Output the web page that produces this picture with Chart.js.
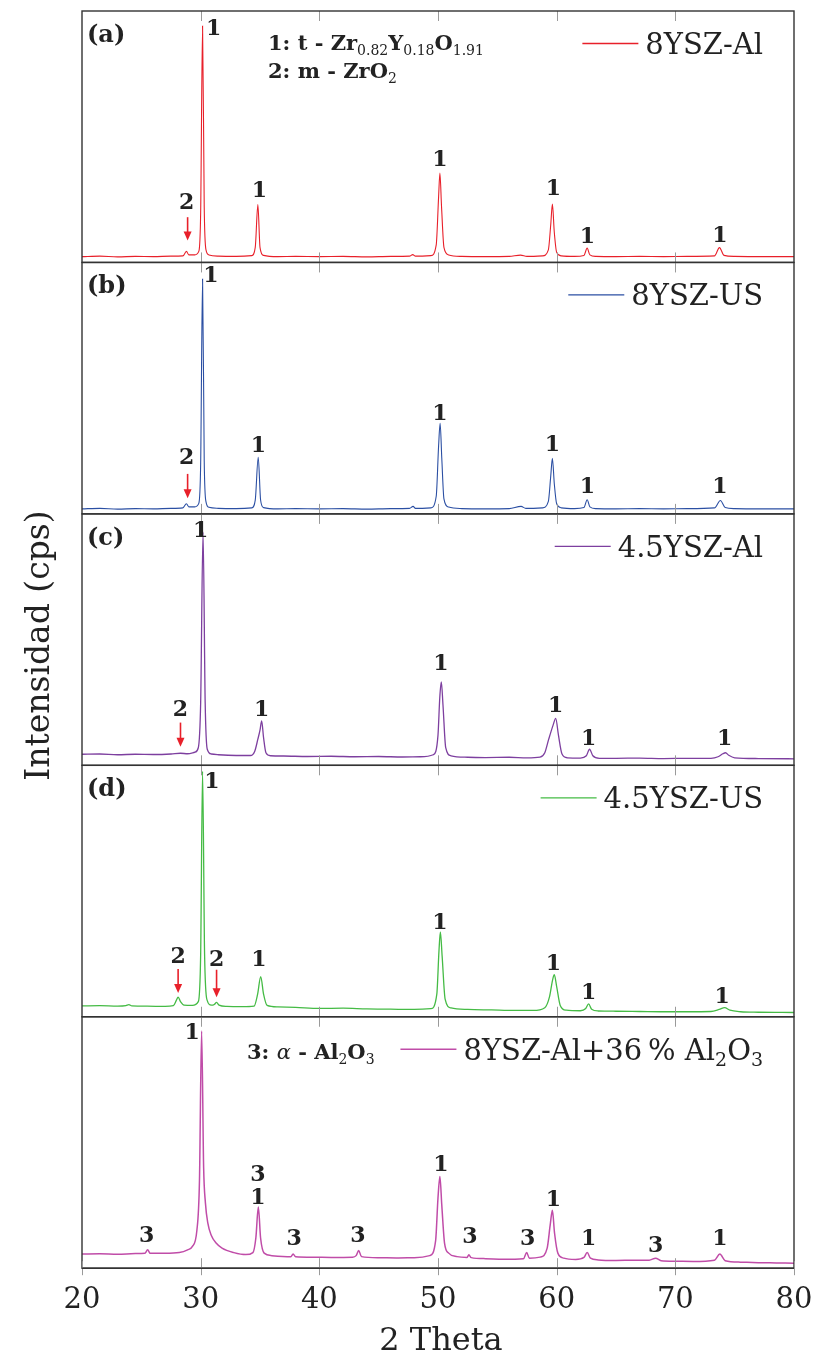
<!DOCTYPE html>
<html>
<head>
<meta charset="utf-8">
<script src="https://cdn.jsdelivr.net/npm/chart.js@4/dist/chart.umd.min.js"></script>
<style>
  body { margin: 0; background: #fff; }
  canvas { display: block; }
</style>
</head>
<body>
<canvas id="xrd" width="816" height="1368"></canvas>
<script>
// x axis
const thetaTicks = [20, 30, 40, 50, 60, 70, 80];

// one scan per panel: [2 theta, intensity on a 0-100 panel scale]
const scanA = [[20,2.3],[21.5,2.5],[23,2.2],[24.5,2.4],[26,2.3],[27.5,2.5],[28.5,2.6],[28.8,4.4],[29.0,3.0],[29.5,3.0],[29.85,4.5],[30.0,20],[30.16,94],[30.3,22],[30.45,5],[30.7,3],[31.5,2.5],[33,2.4],[34.3,2.7],[34.6,6],[34.82,23],[35.0,6],[35.3,2.8],[36.5,2.3],[38,2.4],[40,2.3],[42,2.4],[44,2.2],[46,2.4],[47.6,2.5],[47.87,3.1],[48.1,2.5],[49.4,2.7],[49.85,7],[50.05,26],[50.16,35.6],[50.3,22],[50.5,6],[50.9,3],[52,2.4],[54,2.3],[56,2.4],[56.96,2.9],[57.5,2.4],[58.8,2.6],[59.3,5],[59.5,15],[59.64,23.2],[59.8,12],[60.0,4],[60.4,2.6],[61.5,2.4],[62.3,2.8],[62.57,5.7],[62.8,3],[63.3,2.4],[65,2.3],[67,2.4],[69,2.3],[71,2.4],[73.3,2.6],[73.72,5.9],[74.1,2.8],[75,2.4],[77,2.3],[80,2.3]];
const scanB = [[20,2.0],[21.5,2.2],[23,1.9],[24.5,2.1],[26,2.0],[27.5,2.2],[28.5,2.4],[28.8,4.0],[29.0,2.8],[29.5,2.8],[29.85,4.3],[30.0,20],[30.16,93.4],[30.3,21],[30.45,4.8],[30.7,2.6],[31.5,2.2],[33,2.1],[34.3,2.4],[34.6,5.5],[34.85,22.5],[35.05,5.5],[35.3,2.5],[36.5,2.0],[38,2.1],[40,2.0],[42,2.1],[44,1.9],[46,2.1],[47.6,2.2],[47.9,3.0],[48.1,2.2],[49.4,2.4],[49.85,7],[50.05,27],[50.18,36],[50.32,22],[50.5,6],[50.9,2.7],[52,2.1],[54,2.0],[56,2.1],[57.0,3.0],[57.4,2.2],[58.8,2.4],[59.3,5],[59.5,15],[59.64,22.1],[59.8,12],[60.0,4],[60.4,2.4],[61.5,2.1],[62.3,2.5],[62.57,5.6],[62.8,2.8],[63.3,2.1],[65,2.0],[67,2.1],[69,2.0],[71,2.1],[73.3,2.4],[73.8,5.3],[74.2,2.5],[75,2.1],[77,2.0],[80,2.0]];
const scanC = [[20,4.4],[21.5,4.5],[23,4.2],[24.5,4.4],[26,4.3],[27.5,4.5],[28.3,4.8],[28.9,4.6],[29.5,5.2],[29.8,7],[30.0,25],[30.2,92.7],[30.38,25],[30.55,6.5],[30.9,4.5],[31.5,4.2],[33,3.9],[34.2,3.9],[34.55,5.5],[34.82,10.4],[35.0,14],[35.14,17.7],[35.3,11],[35.5,5],[35.9,3.8],[37,3.7],[39,3.5],[41,3.6],[43,3.4],[45,3.5],[47,3.3],[48.5,3.4],[49.6,4.2],[50.0,12],[50.15,27],[50.28,33.2],[50.42,24],[50.65,7],[51.1,3.8],[52.5,3.2],[54,3.1],[56,3.2],[57.5,3.0],[58.6,3.3],[59.0,5],[59.33,10.4],[59.7,16],[59.92,18.7],[60.15,12],[60.45,4.5],[60.9,3.0],[62.0,2.9],[62.5,3.8],[62.77,6.4],[63.05,3.8],[63.6,2.8],[65,2.8],[67,2.9],[69,2.7],[71,2.8],[73,2.8],[73.6,3.4],[74.0,4.6],[74.23,5.0],[74.5,4.0],[75,3.0],[77,2.7],[80,2.6]];
const scanD = [[20,4.3],[21.5,4.4],[23,4.2],[23.7,4.4],[23.95,4.8],[24.2,4.3],[25.5,4.2],[27,4.1],[27.7,4.4],[27.95,6.5],[28.1,7.8],[28.3,6.0],[28.6,4.6],[29.3,4.5],[29.8,6],[30.0,25],[30.16,97.6],[30.33,25],[30.55,6.5],[30.9,4.6],[31.15,4.9],[31.34,5.7],[31.55,4.6],[32.2,4.1],[33.5,4.0],[34.5,4.2],[34.8,9],[35.06,16],[35.3,9],[35.6,4.5],[36.5,3.9],[38,3.7],[40,3.3],[42,3.4],[44,3.1],[46,3.0],[48,2.9],[49.4,3.2],[49.9,9],[50.08,26],[50.2,33.7],[50.35,24],[50.6,7],[51.1,3.5],[52.5,2.9],[54.5,2.7],[56.5,2.5],[58,2.5],[59.0,3.6],[59.4,8],[59.65,14.5],[59.8,16.7],[60.0,12],[60.3,4.5],[60.8,2.6],[62,2.4],[62.45,3.3],[62.69,5.1],[62.95,3.0],[63.5,2.3],[65,2.2],[67,2.1],[69,2.0],[71,2.0],[73,2.1],[73.7,2.9],[74.15,3.6],[74.6,2.6],[75.5,2.0],[77,1.8],[80,1.7]];
const scanE = [[20,5.6],[21.5,5.7],[23,5.5],[24.5,5.8],[25.3,5.9],[25.53,7.3],[25.75,5.9],[27,5.9],[28.2,6.2],[28.9,7.3],[29.29,8.6],[29.68,15],[29.9,35],[30.08,94.3],[30.25,40],[30.4,26],[30.6,18],[30.9,13],[31.3,10],[31.8,8],[32.8,6.2],[33.8,5.4],[34.4,6.2],[34.65,12],[34.86,24.3],[35.05,12],[35.35,6],[36,5.0],[37.6,4.6],[37.79,5.6],[38.0,4.6],[39.5,4.4],[41,4.3],[42.8,4.4],[43.1,5.0],[43.32,7.0],[43.55,4.6],[45,4.2],[46.5,4.1],[48,4.2],[49.3,5.0],[49.8,11],[50.0,28],[50.16,36.5],[50.32,25],[50.55,10],[50.9,6],[51.6,4.6],[52.45,4.3],[52.6,5.3],[52.8,4.2],[54,3.8],[55.5,3.6],[57.2,3.8],[57.47,6.2],[57.7,4.0],[58.6,4.4],[59.2,8],[59.45,17],[59.64,23],[59.82,14],[60.1,6],[60.6,4.0],[61.6,3.5],[62.3,4.3],[62.57,6.2],[62.85,4.0],[63.5,3.3],[65,3.1],[66.5,3.2],[67.8,3.2],[68.34,4.0],[68.8,3.0],[70,2.8],[71.5,2.7],[73.3,3.2],[73.75,5.6],[74.2,3.0],[75.5,2.4],[77,2.2],[78.5,2.1],[80,2.0]];

// phase labels above the peaks: [2 theta, intensity, label]
const peaksA = [[31.1,90.5,'1'],[28.81,21.3,'2'],[34.94,26,'1'],[50.16,38.3,'1'],[59.72,26.9,'1'],[62.6,7.7,'1'],[73.75,8,'1']];
const peaksB = [[30.87,92.3,'1'],[28.81,19.9,'2'],[34.86,24.5,'1'],[50.16,37.5,'1'],[59.64,25.2,'1'],[62.6,8.2,'1'],[73.75,8.2,'1']];
const peaksC = [[30.0,90.7,'1'],[28.3,19.7,'2'],[35.14,19.7,'1'],[50.24,37.8,'1'],[59.92,21.2,'1'],[62.69,8.1,'1'],[74.15,8.1,'1']];
const peaksD = [[30.95,90.9,'1'],[28.1,21.4,'2'],[31.34,20,'2'],[34.9,20,'1'],[50.16,34.8,'1'],[59.72,18.7,'1'],[62.69,7.0,'1'],[73.95,5.6,'1']];
const peaksE = [[29.29,91,'1'],[25.45,10.6,'3'],[34.82,34.5,'3'],[34.82,25.6,'1'],[37.87,9.3,'3'],[43.24,10.6,'3'],[50.24,38.5,'1'],[52.69,10,'3'],[57.55,9.3,'3'],[59.72,24.6,'1'],[62.69,9.3,'1'],[68.34,6.6,'3'],[73.75,9.3,'1']];

// red arrows: [2 theta, from intensity, to intensity]
const arrowsA = [[28.9,18,8.7]];
const arrowsB = [[28.9,15.9,6.2]];
const arrowsC = [[28.3,17,7.4]];
const arrowsD = [[28.1,19,9.4],[31.34,18.7,7.8]];
const arrowsE = [];

const seriesNames = ['8YSZ-Al', '8YSZ-US', '4.5YSZ-Al', '4.5YSZ-US', '8YSZ-Al+36 % Al2O3'];
const panelTags = ['(a)', '(b)', '(c)', '(d)', ''];

const scans = [scanA, scanB, scanC, scanD, scanE];
const peaks = [peaksA, peaksB, peaksC, peaksD, peaksE];
const arrows = [arrowsA, arrowsB, arrowsC, arrowsD, arrowsE];
const colors = ['#e8202a', '#2b4fa3', '#7d3f9f', '#45bb45', '#c04ca8'];
const lineWidths = [1.1, 1.1, 1.3, 1.3, 1.5];
const axisIds = ['ya', 'yb', 'yc', 'yd', 'ye'];

const SERIF = "'DejaVu Serif', 'Liberation Serif', serif";
const INK = '#222';

// draws text made of runs [text, font, dy], left aligned at x
function drawRuns(ctx, runs, x, y) {
  let cx = x;
  runs.forEach(([txt, font, dy]) => {
    ctx.font = font + ' ' + SERIF;
    ctx.fillText(txt, cx, y + (dy || 0));
    cx += ctx.measureText(txt).width;
  });
  return cx - x;
}
function runsWidth(ctx, runs) {
  let w = 0;
  runs.forEach(([txt, font]) => {
    ctx.font = font + ' ' + SERIF;
    w += ctx.measureText(txt).width;
  });
  return w;
}

const legendRuns = [
  [['8YSZ-Al', '29px']],
  [['8YSZ-US', '29px']],
  [['4.5YSZ-Al', '29px']],
  [['4.5YSZ-US', '29px']],
  [['8YSZ-Al+36\u2009% Al', '29px'], ['2', '19px', 6], ['O', '29px'], ['3', '19px', 6]]
];

const panelDecor = {
  id: 'panelDecor',
  afterDraw(chart) {
    const ctx = chart.ctx;
    const xs = chart.scales.x;
    const area = chart.chartArea;
    ctx.save();
    axisIds.forEach((id, i) => {
      const ys = chart.scales[id];
      const top = ys.top, bottom = ys.bottom;

      // tick marks inside each panel
      ctx.strokeStyle = '#9a9a9a';
      ctx.lineWidth = 1;
      thetaTicks.slice(1, -1).forEach(t => {
        const px = Math.round(xs.getPixelForValue(t)) + 0.5;
        ctx.beginPath();
        ctx.moveTo(px, top); ctx.lineTo(px, top + 10);
        ctx.moveTo(px, bottom); ctx.lineTo(px, bottom - 10);
        ctx.stroke();
      });

      // frame
      ctx.strokeStyle = '#333';
      ctx.lineWidth = 1.4;
      ctx.strokeRect(area.left, top, area.right - area.left, bottom - top);

      // panel tag
      ctx.fillStyle = INK;
      ctx.textAlign = 'left';
      ctx.textBaseline = 'alphabetic';
      ctx.font = 'bold 24px ' + SERIF;
      ctx.fillText(panelTags[i], area.left + 5, top + 31);

      // legend entry
      const runs = legendRuns[i];
      const w = runsWidth(ctx, runs);
      const tx = area.right - 31 - w;
      drawRuns(ctx, runs, tx, top + 43);
      ctx.strokeStyle = colors[i];
      ctx.lineWidth = 1.3;
      ctx.beginPath();
      ctx.moveTo(tx - 63, top + 32.5); ctx.lineTo(tx - 7, top + 32.5);
      ctx.stroke();

      // peak labels
      ctx.fillStyle = INK;
      ctx.textAlign = 'center';
      ctx.font = 'bold 22px ' + SERIF;
      peaks[i].forEach(([t, v, s]) => {
        ctx.fillText(s, xs.getPixelForValue(t), ys.getPixelForValue(v));
      });

      // arrows
      ctx.strokeStyle = '#e8202a';
      ctx.fillStyle = '#e8202a';
      ctx.lineWidth = 1.6;
      arrows[i].forEach(([t, v0, v1]) => {
        const px = xs.getPixelForValue(t);
        const y0 = ys.getPixelForValue(v0), y1 = ys.getPixelForValue(v1);
        ctx.beginPath();
        ctx.moveTo(px, y0); ctx.lineTo(px, y1 - 8);
        ctx.stroke();
        ctx.beginPath();
        ctx.moveTo(px - 4, y1 - 9); ctx.lineTo(px + 4, y1 - 9); ctx.lineTo(px, y1);
        ctx.closePath();
        ctx.fill();
      });
    });

    // phase key texts
    const ya = chart.scales.ya, ye = chart.scales.ye;
    ctx.fillStyle = INK;
    ctx.textAlign = 'left';
    drawRuns(ctx, [['1: t - Zr', 'bold 21px'], ['0.82', '14px', 5], ['Y', 'bold 21px'], ['0.18', '14px', 5], ['O', 'bold 21px'], ['1.91', '14px', 5]], 268, ya.top + 39);
    drawRuns(ctx, [['2: m - ZrO', 'bold 21px'], ['2', '14px', 5]], 268, ya.top + 67);
    drawRuns(ctx, [['3: ', 'bold 21px'], ['\u03b1', 'italic 21px'], [' - Al', 'bold 21px'], ['2', '14px', 5], ['O', 'bold 21px'], ['3', '14px', 5]], 247, ye.top + 42);

    // bottom axis ticks
    ctx.strokeStyle = '#9a9a9a';
    ctx.lineWidth = 1;
    thetaTicks.forEach(t => {
      const px = Math.round(xs.getPixelForValue(t)) + 0.5;
      ctx.beginPath();
      ctx.moveTo(px, area.bottom - 7); ctx.lineTo(px, area.bottom + 7);
      ctx.stroke();
    });
    ctx.strokeStyle = '#333';
    ctx.lineWidth = 1.4;
    ctx.beginPath();
    ctx.moveTo(area.left, area.bottom); ctx.lineTo(area.right, area.bottom);
    ctx.stroke();

    // x title
    ctx.fillStyle = INK;
    ctx.textAlign = 'center';
    ctx.textBaseline = 'middle';
    ctx.font = '32px ' + SERIF;
    ctx.fillText('2 Theta', (area.left + area.right) / 2 + 3, area.bottom + 73);

    // shared y title
    ctx.save();
    ctx.translate(40, (area.top + area.bottom) / 2 + 6);
    ctx.rotate(-Math.PI / 2);
    ctx.font = '33px ' + SERIF;
    ctx.fillText('Intensidad (cps)', 0, 0);
    ctx.restore();
    ctx.restore();
  }
};

const yScale = () => ({
  type: 'linear',
  min: 0,
  max: 100,
  position: 'left',
  stack: 'xrd',
  stackWeight: 1,
  ticks: { display: false },
  grid: { display: false, drawTicks: false },
  border: { display: false }
});

const scales = {
  x: {
    type: 'linear',
    min: 20,
    max: 80,
    ticks: {
      stepSize: 10,
      padding: 15,
      maxRotation: 0,
      color: INK,
      font: { family: SERIF, size: 29 }
    },
    grid: { display: false, drawTicks: false },
    border: { display: false },
    // the end labels may overhang; keep the plot edges fixed
    afterFit(scale) {
      scale.paddingLeft = 0;
      scale.paddingRight = 0;
    }
  }
};
// stacked axes are laid out bottom-up, so add panel (e) first
axisIds.slice().reverse().forEach(id => { scales[id] = yScale(); });

const ctx = document.getElementById('xrd').getContext('2d');
const xrdChart = new Chart(ctx, {
  type: 'line',
  data: {
    datasets: scans.map((scan, i) => ({
      label: seriesNames[i],
      data: scan.map(([x, y]) => ({ x, y })),
      yAxisID: axisIds[i],
      borderColor: colors[i],
      borderWidth: lineWidths[i],
      pointRadius: 0,
      cubicInterpolationMode: 'monotone',
      fill: false
    }))
  },
  options: {
    responsive: false,
    animation: false,
    layout: { padding: { left: 82, right: 22, top: 11, bottom: 35 } },
    plugins: {
      legend: { display: false },
      tooltip: { enabled: false }
    },
    scales: scales
  },
  plugins: [panelDecor]
});
</script>
</body>
</html>
